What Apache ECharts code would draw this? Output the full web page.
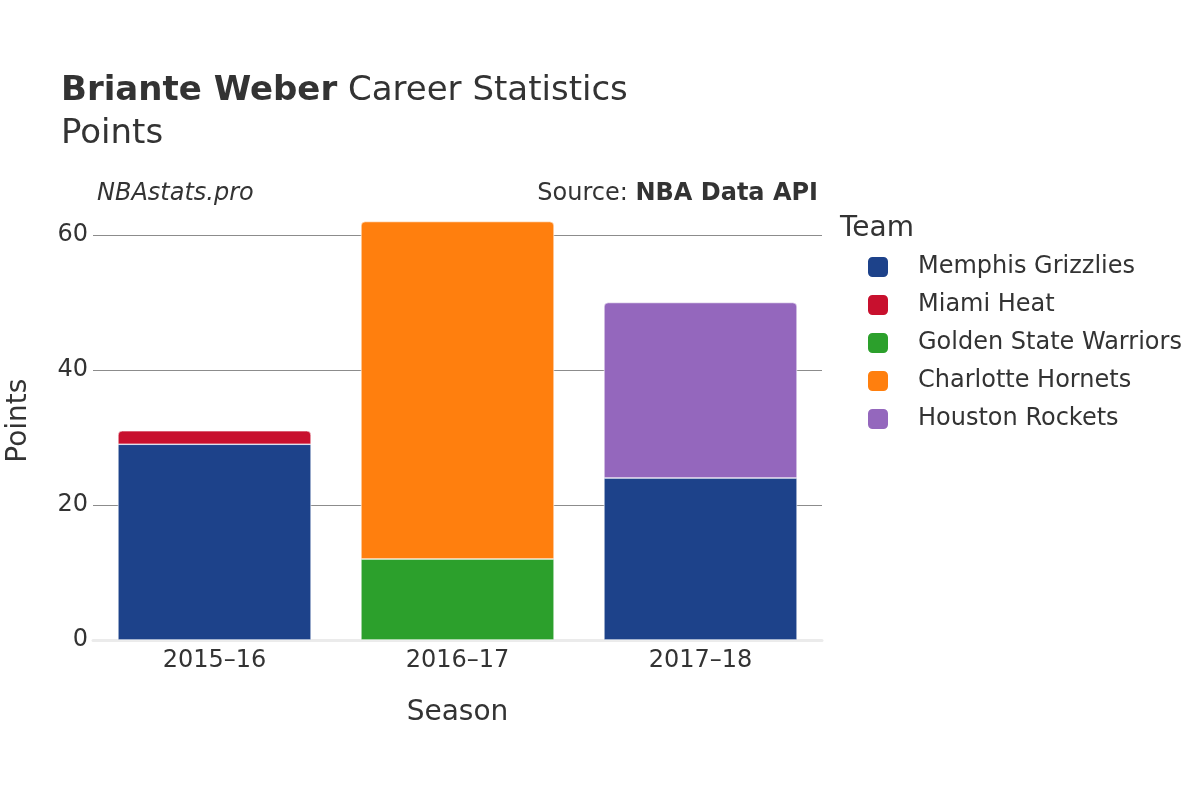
<!DOCTYPE html>
<html>
<head>
<meta charset="utf-8">
<script src="https://cdn.jsdelivr.net/npm/echarts@6/dist/echarts.min.js"></script>
<style>
  html, body { margin: 0; padding: 0; background: #fff; }
  #chart { width: 1200px; height: 800px; }
</style>
</head>
<body>
<div id="chart"></div>
<script>
const seasons = ['2015–16', '2016–17', '2017–18']
const teams = ['Memphis Grizzlies', 'Miami Heat', 'Golden State Warriors', 'Charlotte Hornets', 'Houston Rockets']
const teamColors = ['#1d428a', '#c8102e', '#2ca02c', '#ff7f0e', '#9467bd']
const memphis = [29, null, 24]
const miami = [2, null, null]
const warriors = [null, 12, null]
const hornets = [null, 50, null]
const rockets = [null, null, 26]
const yTicks = [0, 20, 40, 60]

const values = [memphis, miami, warriors, hornets, rockets]
const topOfStack = [false, true, false, true, true]
const font = 'DejaVu Sans'

const chart = echarts.init(document.getElementById('chart'))

chart.setOption({
  textStyle: { fontFamily: font, color: '#333' },
  animation: false,
  title: [
    {
      text: '{b|Briante Weber} Career Statistics\nPoints',
      left: 61, top: 70, padding: 0,
      textStyle: {
        fontFamily: font, fontSize: 34, fontWeight: 'normal', color: '#333', lineHeight: 43,
        rich: { b: { fontFamily: font, fontSize: 34, fontWeight: 'bold', color: '#333', lineHeight: 43 } }
      }
    },
    {
      text: 'Team', left: 840, top: 215, padding: 0,
      textStyle: { fontFamily: font, fontSize: 28, fontWeight: 'normal', color: '#333' }
    }
  ],
  graphic: [
    {
      type: 'text', left: 97, top: 182,
      style: { text: 'NBAstats.pro', font: 'italic 24px "DejaVu Sans"', fill: '#333' }
    },
    {
      type: 'text', right: 382, top: 182,
      style: {
        text: 'Source: {b|NBA Data API}', font: '24px "DejaVu Sans"', fill: '#333',
        rich: { b: { fontFamily: font, fontSize: 24, fontWeight: 'bold', fill: '#333' } }
      }
    }
  ],
  legend: {
    data: teams,
    orient: 'vertical',
    left: 866, top: 255, padding: 0,
    icon: 'roundRect',
    itemWidth: 22, itemHeight: 22, itemGap: 14,
    textStyle: { fontFamily: font, fontSize: 24, lineHeight: 24, color: '#333', padding: [0, 0, 0, 24] }
  },
  grid: { left: 93, right: 378, top: 201.25, bottom: 160, outerBoundsMode: 'none' },
  xAxis: {
    type: 'category',
    data: seasons,
    name: 'Season',
    nameLocation: 'middle',
    nameGap: 59,
    nameTextStyle: { fontFamily: font, fontSize: 28, color: '#333' },
    axisLine: { show: true, lineStyle: { color: '#ebebeb', width: 3 } },
    axisTick: { show: false },
    axisLabel: { fontFamily: font, fontSize: 24, color: '#333', margin: 9 }
  },
  yAxis: {
    type: 'value',
    min: 0, max: 65, interval: 20,
    name: 'Points',
    nameLocation: 'middle',
    nameGap: 60,
    nameTextStyle: { fontFamily: font, fontSize: 28, color: '#333' },
    axisLine: { show: false },
    axisTick: { show: false },
    axisLabel: {
      fontFamily: font, fontSize: 24, color: '#333', margin: 5, showMaxLabel: false,
      formatter: v => (yTicks.includes(v) ? String(v) : '')
    },
    splitLine: { show: true, showMaxLine: false, showMinLine: false, lineStyle: { color: '#8c8c8c', width: 1 } }
  },
  series: teams.map((name, i) => ({
    name,
    type: 'bar',
    stack: 'total',
    data: values[i],
    barCategoryGap: '20.5%',
    itemStyle: {
      color: teamColors[i],
      borderColor: '#fff',
      borderWidth: 0.6,
      borderRadius: topOfStack[i] ? [4, 4, 0, 0] : 0
    }
  }))
})
</script>
</body>
</html>
